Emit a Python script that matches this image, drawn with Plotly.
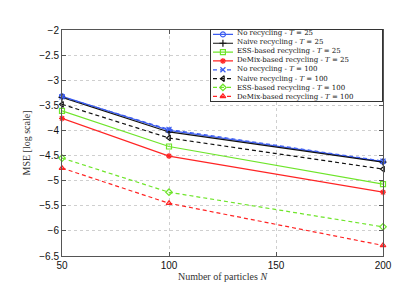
import plotly.graph_objects as go

particles = [50, 100, 200]

series_names = [
    "No recycling - <i>T</i> = 25",
    "Naive recycling - <i>T</i> = 25",
    "ESS-based recycling - <i>T</i> = 25",
    "DeMix-based recycling - <i>T</i> = 25",
    "No recycling - <i>T</i> = 100",
    "Naive recycling - <i>T</i> = 100",
    "ESS-based recycling - <i>T</i> = 100",
    "DeMix-based recycling - <i>T</i> = 100",
]

no_rec_25 = [-3.32, -4.00, -4.62]
naive_25 = [-3.34, -4.03, -4.63]
ess_25 = [-3.61, -4.32, -5.07]
demix_25 = [-3.76, -4.51, -5.23]
no_rec_100 = [-3.33, -3.98, -4.61]
naive_100 = [-3.48, -4.15, -4.77]
ess_100 = [-4.55, -5.23, -5.92]
demix_100 = [-4.75, -5.45, -6.29]

all_values = [no_rec_25, naive_25, ess_25, demix_25,
              no_rec_100, naive_100, ess_100, demix_100]

y_ticks = [-2, -2.5, -3, -3.5, -4, -4.5, -5, -5.5, -6, -6.5]
x_ticks = [50, 100, 150, 200]

BLUE = "#3b5cf0"
BLACK = "#111111"
GREEN = "#6ee52a"
RED = "#ff2424"

styles = [
    (BLUE, "solid", "circle-open"),
    (BLACK, "solid", "cross-thin-open"),
    (GREEN, "solid", "square-open"),
    (RED, "solid", "asterisk-open"),
    (BLUE, "4px,3px", "x-thin-open"),
    (BLACK, "4px,3px", "triangle-left-open"),
    (GREEN, "4px,3px", "diamond-open"),
    (RED, "4px,3px", "triangle-up-open"),
]

SERIF = "Liberation Serif, DejaVu Serif, serif"

fig = go.Figure()

for vals, (col, dash, sym) in zip(all_values, styles):
    fig.add_trace(go.Scatter(
        x=particles, y=vals, mode="lines+markers",
        line=dict(color=col, width=1.2, dash=dash),
        marker=dict(symbol=sym, size=5, color=col, line=dict(color=col, width=1.2)),
        showlegend=False, cliponaxis=False,
    ))

# custom legend drawn in an auxiliary subplot
n = len(series_names)
for i, (name, (col, dash, sym)) in enumerate(zip(series_names, styles)):
    yy = n - 0.5 - i
    fig.add_trace(go.Scatter(
        x=[0.012, 0.129], y=[yy, yy], mode="lines",
        line=dict(color=col, width=1.2, dash=dash),
        xaxis="x2", yaxis="y2", showlegend=False, hoverinfo="skip",
    ))
    fig.add_trace(go.Scatter(
        x=[0.07], y=[yy], mode="markers",
        marker=dict(symbol=sym, size=5, color=col, line=dict(color=col, width=1.2)),
        xaxis="x2", yaxis="y2", showlegend=False, hoverinfo="skip",
    ))

fig.add_annotation(
    x=0.145, y=n / 2, xref="x2", yref="y2", text="<br>".join(series_names),
    showarrow=False, xanchor="left", yanchor="middle", align="left", borderpad=0,
    font=dict(family="DejaVu Serif, serif", size=7, color="#111"),
)

axis_common = dict(
    showline=True, linecolor="#555", linewidth=1, mirror="ticks",
    ticks="inside", ticklen=4, tickcolor="#555",
    showgrid=True, gridcolor="#cfcfcf", griddash="dot", gridwidth=1,
    zeroline=False,
    tickfont=dict(family="Liberation Sans, Arial, sans-serif", size=10, color="#111"),
)

fig.update_layout(
    width=415, height=284,
    margin=dict(l=54, r=40, t=22, b=32),
    paper_bgcolor="white", plot_bgcolor="white",
    xaxis=dict(range=[50, 200], tickvals=x_ticks, **axis_common,
               title=dict(text="Number of particles <i>N</i>", standoff=2,
                          font=dict(family=SERIF, size=10, color="#333"))),
    yaxis=dict(range=[-6.5, -2], tickvals=y_ticks, **axis_common,
               title=dict(text="MSE [log scale]", standoff=6,
                          font=dict(family=SERIF, size=10, color="#333"))),
    xaxis2=dict(domain=[0.464, 0.997], range=[0, 1], anchor="y2",
                showline=True, mirror=True, linecolor="#333", linewidth=1,
                showgrid=False, zeroline=False, showticklabels=False, ticks=""),
    yaxis2=dict(domain=[0.687, 1.0], range=[0, n], anchor="x2",
                showline=True, mirror=True, linecolor="#333", linewidth=1,
                showgrid=False, zeroline=False, showticklabels=False, ticks=""),
    showlegend=False,
)

fig.write_html("out.html")
